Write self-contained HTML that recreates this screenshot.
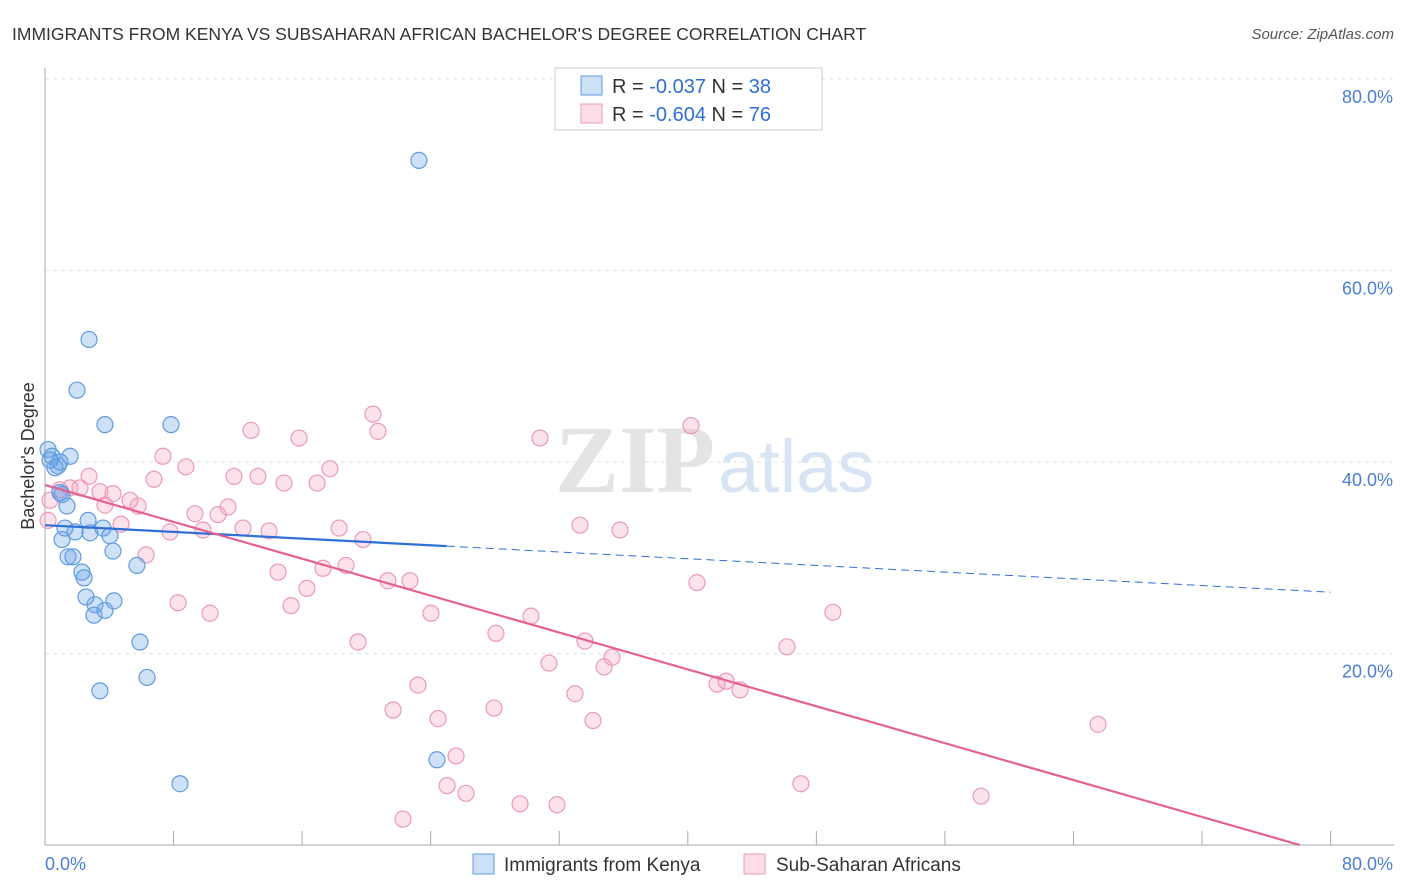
<!DOCTYPE html>
<html><head><meta charset="utf-8"><style>
body{margin:0;background:#fff;font-family:"Liberation Sans",sans-serif;}
#c{position:relative;width:1406px;height:892px;overflow:hidden;}
</style></head><body>
<div id="c">
<svg id="s" width="1406" height="892"></svg>
</div>
<script>
const yTicks=[20,40,60,80];
const yTickLabels=["20.0%","40.0%","60.0%","80.0%"];
const xTickVals=[0,8,16,24,32,40,48,56,64,72,80];
const blueX=[23.27,2.74,1.99,3.73,7.84,0.19,0.44,1.56,0.81,0.62,0.93,0.93,1.37,1.24,1.06,1.87,2.80,2.68,3.61,4.04,4.23,1.43,1.74,2.30,2.43,5.72,2.55,3.11,3.05,3.73,4.29,5.91,6.35,3.42,8.40,24.39,1.06,0.31];
const blueY=[71.5,52.8,47.5,43.9,43.9,41.3,40.6,40.6,39.6,39.4,40.0,36.8,35.4,33.1,31.9,32.7,32.6,33.9,33.1,32.3,30.7,30.1,30.1,28.5,27.9,29.2,25.9,25.1,24.0,24.5,25.5,21.2,17.5,16.1,6.4,8.9,36.6,40.2];
const pinkX=[20.41,20.72,12.82,15.81,30.80,40.20,7.34,8.77,2.74,6.78,11.76,13.25,17.73,14.87,16.93,1.56,2.18,0.93,3.42,4.23,5.29,5.79,11.39,9.33,10.77,3.73,4.73,7.78,9.83,12.32,13.94,18.30,19.79,33.29,35.78,6.29,18.73,17.30,14.50,21.34,22.71,16.30,40.57,8.28,15.31,10.27,24.02,30.24,49.03,28.06,33.60,19.48,46.17,35.28,31.36,34.79,23.21,41.82,42.38,43.25,32.98,21.66,27.94,24.46,34.10,65.53,25.58,25.02,26.20,47.04,29.56,31.86,22.28,58.25,0.31,0.19];
const pinkY=[45.0,43.2,43.3,42.5,42.5,43.8,40.6,39.5,38.5,38.2,38.5,38.5,39.3,37.8,37.8,37.3,37.3,37.1,36.9,36.7,36.0,35.4,35.3,34.6,34.5,35.5,33.5,32.7,32.9,33.1,32.8,33.1,31.9,33.4,32.9,30.3,29.2,28.9,28.5,27.6,27.6,26.8,27.4,25.3,25.0,24.2,24.2,23.9,24.3,22.1,21.3,21.2,20.7,19.6,19.0,18.6,16.7,16.8,17.1,16.2,15.8,14.1,14.3,13.2,13.0,12.6,9.3,6.2,5.4,6.4,4.3,4.2,2.7,5.1,36.0,33.9];
const blueTrend=[33.4,-0.0875]; // intercept, slope
const pinkTrend=[37.6,-0.4815];
const X=v=>45+v*16.07, Y=v=>845-v*9.575;
const s=document.getElementById('s');const NS='http://www.w3.org/2000/svg';
function mk(t,a,p){const e=document.createElementNS(NS,t);for(const k in a)e.setAttribute(k,a[k]);(p||s).appendChild(e);return e;}
function txt(x,y,str,a){const e=mk('text',Object.assign({x:x,y:y},a));e.textContent=str;return e;}
let e;
yTicks.forEach((v,i)=>{
 e=mk('line',{x1:45,x2:1394,y1:Y(v),y2:Y(v),stroke:'#e2e2e2','stroke-dasharray':'4 4'});
 
 
 e=txt(1393,Y(v)+24,yTickLabels[i],{'text-anchor':'end','font-size':18,fill:'#4a7fd4'});
 
 
});
e=mk('line',{x1:45,x2:45,y1:68,y2:845,stroke:'#aaa'});


e=mk('line',{x1:45,x2:1394,y1:845,y2:845,stroke:'#aaa'});


xTickVals.forEach(v=>{
 e=mk('line',{x1:X(v),x2:X(v),y1:831,y2:845,stroke:'#aaa'});
 
 
});
e=txt(45,870,'0.0%',{'font-size':18,fill:'#4a7fd4'});

e=txt(1393,870,'80.0%',{'text-anchor':'end','font-size':18,fill:'#4a7fd4'});

// watermark
e=txt(555,492,'ZIP',{'font-size':96,fill:'#e4e4e4','font-family':'Liberation Serif',
'font-weight':'bold'});

e=txt(718,492,'atlas',{'font-size':74,fill:'#d6e4f4'});

pinkX.forEach((x,i)=>{
 e=mk('circle',{cx:X(x),cy:Y(pinkY[i]),r:8,fill:'rgba(244,160,188,0.3)',stroke:'#eb9ab6','stroke-width':1.2});
 
 
});
blueX.forEach((x,i)=>{
 e=mk('circle',{cx:X(x),cy:Y(blueY[i]),r:8,fill:'rgba(110,165,230,0.33)',stroke:'#5f9be0','stroke-width':1.2});
 
 
});
e=mk('line',{x1:X(0),y1:Y(blueTrend[0]),x2:X(25),y2:Y(blueTrend[0]+blueTrend[1]*25),stroke:'#2f6fd6','stroke-width':2.2});

e=mk('line',{x1:X(25),y1:Y(blueTrend[0]+blueTrend[1]*25),x2:X(80),y2:Y(blueTrend[0]+blueTrend[1]*80),stroke:'#2f6fd6','stroke-width':1,'stroke-dasharray':'8 5'});

const pe=-pinkTrend[0]/pinkTrend[1];
e=mk('line',{x1:X(0),y1:Y(pinkTrend[0]),x2:X(pe),y2:Y(0),stroke:'#e4628f','stroke-width':2.2});

// title
e=txt(12,40,"IMMIGRANTS FROM KENYA VS SUBSAHARAN AFRICAN BACHELOR'S DEGREE CORRELATION CHART",{'font-size':17.5,fill:'#333'});

e=txt(1394,39,'Source: ZipAtlas.com',{'text-anchor':'end','font-size':15,fill:'#555','font-style':'italic'});

e=txt(34,456,"Bachelor's Degree",{'text-anchor':'middle','font-size':18,fill:'#333',transform:'rotate(-90 34 456)'});

// legend box
const g=mk('g',{});

mk('rect',{x:555,y:68,width:267,height:62,fill:'#fff',stroke:'#ccc'},g);
mk('rect',{x:581,y:76,width:21,height:19,fill:'rgba(110,165,230,0.35)',stroke:'#5f9be0'},g);
mk('rect',{x:581,y:104,width:21,height:19,fill:'rgba(244,160,188,0.35)',stroke:'#eb9ab6'},g);
const rows=[['-0.037','38',93],['-0.604','76',121]];
rows.forEach(r=>{
 const t=mk('text',{x:612,y:r[2],'font-size':20,fill:'#333'},g);
 t.innerHTML='R = <tspan fill="#2f6fd6">'+r[0]+'</tspan>   N = <tspan fill="#2f6fd6">'+r[1]+'</tspan>';
 t.setAttribute('xml:space','preserve');
});
// bottom legend
const b=mk('g',{});

mk('rect',{x:473,y:854,width:21,height:20,fill:'rgba(110,165,230,0.35)',stroke:'#5f9be0'},b);
mk('text',{x:504,y:871,'font-size':19,fill:'#333'},b).textContent='Immigrants from Kenya';
mk('rect',{x:744,y:854,width:21,height:20,fill:'rgba(244,160,188,0.35)',stroke:'#eb9ab6'},b);
mk('text',{x:776,y:871,'font-size':19,fill:'#333'},b).textContent='Sub-Saharan Africans';
</script>
</body></html>
